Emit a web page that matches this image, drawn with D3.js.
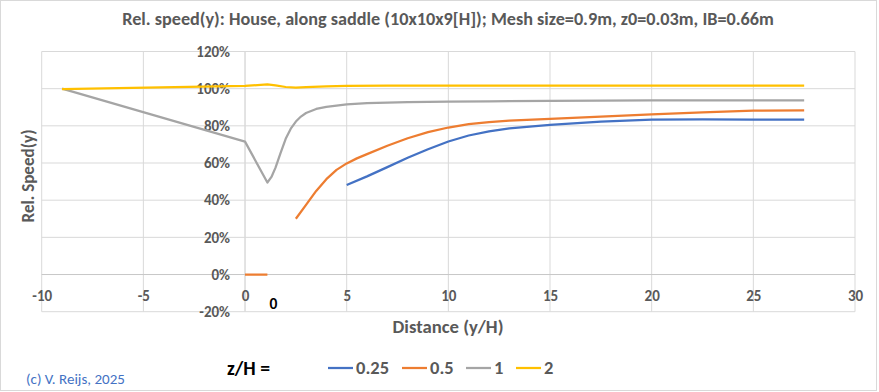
<!DOCTYPE html>
<html>
<head>
<meta charset="utf-8">
<script src="https://cdn.jsdelivr.net/npm/d3@7"></script>
<style>
  html, body { margin: 0; padding: 0; background: #fff; }
  svg { display: block; }
  text { font-family: Carlito, Lato, "Open Sans", sans-serif; }
</style>
</head>
<body>
<svg id="chart" width="879" height="392"></svg>
<script>
const titleText = "Rel. speed(y): House, along saddle (10x10x9[H]); Mesh size=0.9m, z0=0.03m, IB=0.66m";
const xTicks = [-10, -5, 0, 5, 10, 15, 20, 25, 30];
const yTicks = [-20, 0, 20, 40, 60, 80, 100, 120];
const seriesNames = ["0.25", "0.5", "1", "2"];
const seriesColors = ["#4472c4", "#ed7d31", "#a5a5a5", "#ffc000"];

const x025 = [5, 6, 7, 8, 9, 10, 11, 12, 13, 15, 17.5, 20, 22.5, 25, 27.5];
const y025 = [48.2, 52.8, 57.8, 62.8, 67.4, 71.6, 74.8, 77, 78.6, 80.5, 82.3, 83.3, 83.5, 83.4, 83.3];

const x05 = [0, 1.1, 2, 2.5, 3, 3.5, 4, 4.5, 5, 5.5, 6, 7, 8, 9, 10, 11, 12, 13, 15, 17.5, 20, 22.5, 25, 27.5];
const y05 = [0, 0, null, 30, 37.5, 45, 51.3, 56.3, 59.8, 62.5, 64.8, 69.3, 73.3, 76.6, 79.1, 80.9, 82, 82.8, 83.8, 85, 86.2, 87.3, 88.2, 88.3];

const x1 = [-9, 0, 1.1, 1.3, 1.5, 1.75, 2, 2.25, 2.5, 2.75, 3, 3.5, 4, 5, 6, 7, 8, 10, 12, 15, 20, 25, 27.5];
const y1 = [100, 71.5, 49.5, 52.5, 57.5, 65.5, 73, 78.5, 82.3, 85, 86.9, 89.1, 90.2, 91.5, 92.2, 92.5, 92.7, 93, 93.2, 93.5, 93.7, 93.7, 93.7];

const x2 = [-9, 0, 1.1, 1.5, 2, 2.5, 3, 4, 5, 7, 10, 15, 20, 27.5];
const y2 = [99.8, 101.5, 102.3, 101.8, 100.9, 100.6, 100.8, 101.2, 101.5, 101.6, 101.6, 101.6, 101.6, 101.6];

const seriesX = [x025, x05, x1, x2];
const seriesY = [y025, y05, y1, y2];

const svg = d3.select("#chart");
const textGray = "#595959";
const gridColor = "#d9d9d9";

function fitWidth(sel, target) {
  const fs = +sel.attr("font-size");
  const w = sel.node().getComputedTextLength();
  if (w > 0) sel.attr("font-size", fs * target / w);
  return sel;
}

// outer border
svg.append("rect").attr("x", 0.5).attr("y", 0.5).attr("width", 876).attr("height", 390)
  .attr("fill", "#fff").attr("stroke", "#d9d9d9");

const xs = d3.scaleLinear().domain([-10, 30]).range([41.7, 855]);
const ys = d3.scaleLinear().domain([-20, 120]).range([311.7, 51.5]);

// gridlines
svg.append("g").selectAll("line").data(xTicks).join("line")
  .attr("x1", d => xs(d)).attr("x2", d => xs(d))
  .attr("y1", ys(120)).attr("y2", ys(-20))
  .attr("stroke", d => d === 0 ? "#c8c8c8" : gridColor).attr("stroke-width", 1);
svg.append("g").selectAll("line").data(yTicks).join("line")
  .attr("x1", xs(-10)).attr("x2", xs(30))
  .attr("y1", d => ys(d)).attr("y2", d => ys(d))
  .attr("stroke", d => d === 0 ? "#c8c8c8" : gridColor).attr("stroke-width", 1);

// y-axis tick labels (at x=0 crossing)
const yAxis = d3.axisLeft(ys).tickValues(yTicks).tickSize(0).tickPadding(0)
  .tickFormat(d => d + "%");
const gy = svg.append("g").attr("transform", `translate(${xs(0) - 15},0)`).call(yAxis);
gy.select(".domain").remove();
gy.selectAll("text").attr("fill", textGray).attr("font-size", 15).attr("font-weight", "bold")
  .style("font-family", "Carlito, Lato, sans-serif");

// x-axis tick labels (at y=0 crossing)
const xAxis = d3.axisBottom(xs).tickValues(xTicks).tickSize(0).tickPadding(0)
  .tickFormat(d => d);
const gx = svg.append("g").attr("transform", `translate(0,${ys(0) + 21})`).call(xAxis);
gx.select(".domain").remove();
gx.selectAll("text").attr("fill", textGray).attr("font-size", 15).attr("font-weight", "bold")
  .attr("dy", "0.35em")
  .style("font-family", "Carlito, Lato, sans-serif");

// series lines
const line = d3.line()
  .defined(d => d[1] !== null)
  .x(d => xs(d[0])).y(d => ys(d[1]));
seriesNames.forEach((name, i) => {
  const pts = seriesX[i].map((xv, j) => [xv, seriesY[i][j]]);
  svg.append("path").datum(pts)
    .attr("fill", "none").attr("stroke", seriesColors[i])
    .attr("stroke-width", 2.25).attr("stroke-linejoin", "round")
    .attr("d", line);
});

// data label "0"
svg.append("text").attr("x", xs(1.4)).attr("y", 304).attr("text-anchor", "middle")
  .attr("dy", "0.35em").attr("font-size", 15.5).attr("font-weight", "bold").attr("fill", "#000")
  .text("0");

// title
const title = svg.append("text").attr("x", 448).attr("y", 19).attr("dy", "0.35em")
  .attr("text-anchor", "middle").attr("font-size", 16).attr("font-weight", "bold")
  .attr("fill", textGray).text(titleText);
fitWidth(title, 652);

// axis titles
const xt = svg.append("text").attr("x", 448).attr("y", 326).attr("dy", "0.35em")
  .attr("text-anchor", "middle").attr("font-size", 16).attr("font-weight", "bold")
  .attr("fill", textGray).text("Distance (y/H)");
fitWidth(xt, 111);
const yt = svg.append("text").attr("transform", "translate(28,176) rotate(-90)").attr("dy", "0.35em")
  .attr("text-anchor", "middle").attr("font-size", 16).attr("font-weight", "bold")
  .attr("fill", textGray).text("Rel. Speed(y)");
fitWidth(yt, 93);

// legend
const zl = svg.append("text").attr("x", 227).attr("y", 368).attr("dy", "0.35em")
  .attr("font-size", 16).attr("font-weight", "bold").attr("fill", "#000").text("z/H =");
fitWidth(zl, 43);
const legendX = [328, 402, 466, 516];
seriesNames.forEach((name, i) => {
  const g = svg.append("g").attr("transform", `translate(${legendX[i]},368)`);
  g.append("line").attr("x1", 0).attr("x2", 25).attr("y1", 0).attr("y2", 0)
    .attr("stroke", seriesColors[i]).attr("stroke-width", 2.25);
  g.append("text").attr("x", 28).attr("dy", "0.35em").attr("font-size", 18.5)
    .attr("font-weight", "bold").attr("fill", textGray).text(name);
});

// credit
const cr = svg.append("text").attr("x", 26).attr("y", 379).attr("dy", "0.35em")
  .attr("font-size", 12.5).attr("fill", "#4472c4").text("(c) V. Reijs, 2025");
fitWidth(cr, 99);
</script>
</body>
</html>
